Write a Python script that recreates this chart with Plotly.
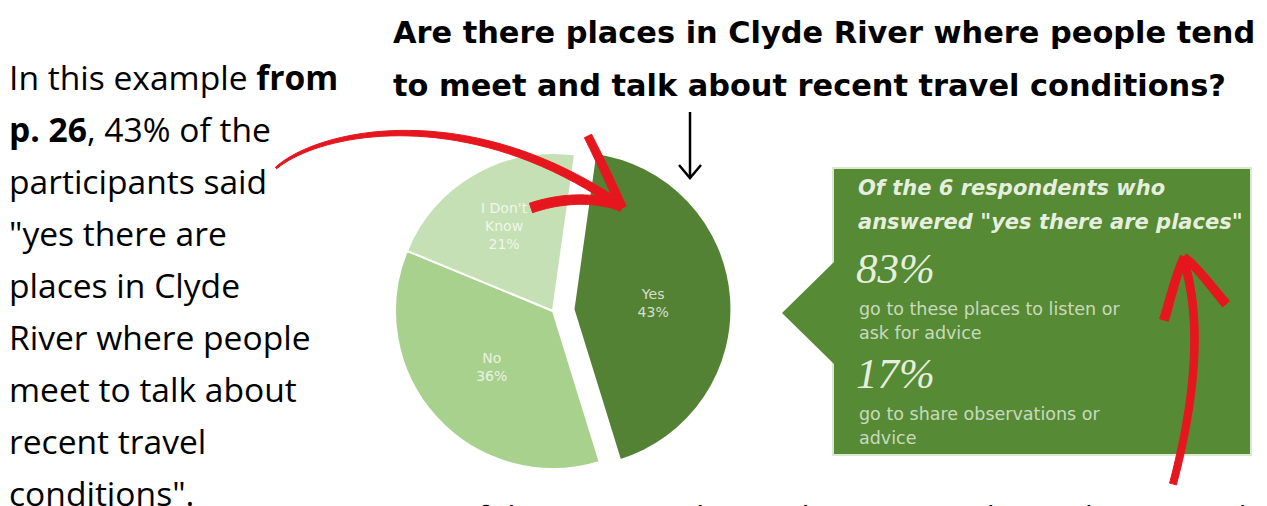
import plotly.graph_objects as go

W, H = 1267, 506

# Survey answers shown in the pie
categories = ["Yes", "No", "I Don't<br>Know"]
shares = [43, 36, 21]

# Follow-up among the respondents who said yes
followup_pct = ["83%", "17%"]
followup_text = [
    ["go to these places to listen or", "ask for advice"],
    ["go to share observations or", "advice"],
]

title_lines = [
    "Are there places in Clyde River where people tend",
    "to meet and talk about recent travel conditions?",
]

side_lines = [
    "In this example <b>from</b>",
    "<b>p. 26</b>, 43% of the",
    "participants said",
    "\"yes there are",
    "places in Clyde",
    "River where people",
    "meet to talk about",
    "recent travel",
    "conditions\".",
]

box_heading = ["Of the 6 respondents who", "answered \"yes there are places\""]
footer_text = "Of the 6 respondents who answered \"yes there are places\""

GREEN_DARK = "#548235"
GREEN_MID = "#a9d18e"
GREEN_PALE = "#c5e0b4"
BOX_GREEN = "#568a34"
RED = "#e6161e"


def px(x):
    return x / W


def py(y):
    return 1 - y / H


def path(points, close=True):
    s = "M " + " L ".join(f"{px(x):.5f},{py(y):.5f}" for x, y in points)
    return s + (" Z" if close else "")


def bez(p0, p1, p2, p3, t):
    u = 1 - t
    return (
        u**3 * p0[0] + 3 * u * u * t * p1[0] + 3 * u * t * t * p2[0] + t**3 * p3[0],
        u**3 * p0[1] + 3 * u * u * t * p1[1] + 3 * u * t * t * p2[1] + t**3 * p3[1],
    )


def stroke(p0, p1, p2, p3, w0, w1, n=40):
    """Filled outline of a cubic curve whose width goes from w0 to w1."""
    pts = [bez(p0, p1, p2, p3, i / n) for i in range(n + 1)]
    left, right = [], []
    for i, (x, y) in enumerate(pts):
        a = pts[max(i - 1, 0)]
        b = pts[min(i + 1, n)]
        dx, dy = b[0] - a[0], b[1] - a[1]
        ln = (dx * dx + dy * dy) ** 0.5 or 1
        nx, ny = -dy / ln, dx / ln
        w = (w0 + (w1 - w0) * i / n) / 2
        left.append((x + nx * w, y + ny * w))
        right.append((x - nx * w, y - ny * w))
    return path(left + right[::-1])


fig = go.Figure()

fig.add_trace(go.Pie(
    labels=categories,
    values=shares,
    text=[f"{c}<br>{v}%" for c, v in zip(categories, shares)],
    textinfo="text",
    textposition="inside",
    insidetextorientation="horizontal",
    textfont=dict(family="DejaVu Sans", size=14, color="rgba(255,255,255,0.75)"),
    sort=False,
    direction="clockwise",
    rotation=8,
    pull=[0.13, 0, 0],
    marker=dict(colors=[GREEN_DARK, GREEN_MID, GREEN_PALE], line=dict(color="white", width=2)),
    domain=dict(x=[px(374.5), px(731.5)], y=[py(490.5), py(131.5)]),
    showlegend=False,
    hoverinfo="skip",
))

shapes = []

# Call-out box with pointer
shapes.append(dict(type="rect", xref="paper", yref="paper",
                   x0=px(833), x1=px(1251), y0=py(455), y1=py(168),
                   fillcolor=BOX_GREEN, line=dict(color="#dde8d3", width=2), layer="below"))
shapes.append(dict(type="path", xref="paper", yref="paper",
                   path=path([(834, 262), (782, 313), (834, 364)]),
                   fillcolor=BOX_GREEN, line=dict(width=0), layer="below"))

# Black pointer arrow under the title
shapes.append(dict(type="line", xref="paper", yref="paper",
                   x0=px(690), x1=px(690), y0=py(112), y1=py(178),
                   line=dict(color="black", width=2.5)))
shapes.append(dict(type="path", xref="paper", yref="paper",
                   path=path([(679, 165), (690, 178), (701, 165)], close=False),
                   line=dict(color="black", width=2.5)))

# Red hand-drawn arrow toward the "Yes" slice
shapes.append(dict(type="path", xref="paper", yref="paper",
                   path=stroke((276, 168), (320, 130), (470, 100), (622, 207), 2, 9),
                   fillcolor=RED, line=dict(color=RED, width=1)))
shapes.append(dict(type="path", xref="paper", yref="paper",
                   path=stroke((588, 136), (600, 160), (612, 185), (622, 208), 8, 9),
                   fillcolor=RED, line=dict(color=RED, width=1)))
shapes.append(dict(type="path", xref="paper", yref="paper",
                   path=stroke((531, 208), (560, 198), (595, 196), (622, 207), 10, 9),
                   fillcolor=RED, line=dict(color=RED, width=1)))

# Red arrow pointing up at the box heading
shapes.append(dict(type="path", xref="paper", yref="paper",
                   path=stroke((1173, 484), (1195, 400), (1203, 320), (1183, 258), 7, 8),
                   fillcolor=RED, line=dict(color=RED, width=1)))
shapes.append(dict(type="path", xref="paper", yref="paper",
                   path=stroke((1164, 320), (1170, 300), (1176, 275), (1184, 257), 9, 8),
                   fillcolor=RED, line=dict(color=RED, width=1)))
shapes.append(dict(type="path", xref="paper", yref="paper",
                   path=stroke((1226, 304), (1210, 285), (1198, 268), (1184, 257), 9, 8),
                   fillcolor=RED, line=dict(color=RED, width=1)))

ann = []


def note(text, x, y, size, family, color="black", anchor="middle"):
    ann.append(dict(text=text, x=px(x), y=py(y), xref="paper", yref="paper",
                    xanchor="left", yanchor=anchor, showarrow=False,
                    font=dict(size=size, family=family, color=color)))


# Title
for i, line in enumerate(title_lines):
    note(f"<b>{line}</b>", 391, 33 + 52 * i, 30.4, "DejaVu Sans")

# Side explanation
for i, line in enumerate(side_lines):
    note(line, 7, 77 + 52 * i, 33.6, "Open Sans")

# Box contents
PALE = "rgba(240,246,234,0.95)"
SOFT = "rgba(232,240,226,0.8)"
for i, line in enumerate(box_heading):
    note(f"<b><i>{line}</i></b>", 856, 188 + 34 * i, 21, "DejaVu Sans", PALE)
pct_y = [268, 373]
for k, pct in enumerate(followup_pct):
    note(f"<i>{pct}</i>", 854, pct_y[k], 43, "Liberation Serif", PALE)
    for j, line in enumerate(followup_text[k]):
        note(line, 857, pct_y[k] + 41 + 24 * j, 17.5, "DejaVu Sans", SOFT)

# Footer line running off the bottom edge
note(footer_text, 450, 494, 32, "Open Sans", anchor="top")

fig.update_layout(
    width=W, height=H,
    margin=dict(l=0, r=0, t=0, b=0),
    paper_bgcolor="white", plot_bgcolor="white",
    shapes=shapes, annotations=ann,
)

fig.write_html("out.html")
